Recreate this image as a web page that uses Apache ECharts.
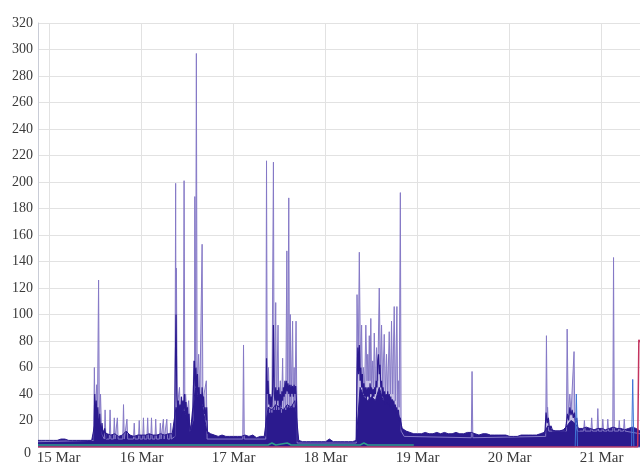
<!DOCTYPE html>
<html>
<head>
<meta charset="utf-8">
<script src="https://cdn.jsdelivr.net/npm/echarts@6/dist/echarts.min.js"></script>
<style>
html,body{margin:0;padding:0;background:#fff;}
#chart{width:640px;height:466px;}
</style>
</head>
<body>
<div id="chart"></div>
<script>
// ---- tick labels ----
const dayLabels = ['15 Mar', '16 Mar', '17 Mar', '18 Mar', '19 Mar', '20 Mar', '21 Mar'];
const yTicks = [0, 20, 40, 60, 80, 100, 120, 140, 160, 180, 200, 220, 240, 260, 280, 300, 320];

// ---- dense (dark) traffic floor, hourly, per day ----
const base14 = [5, 5, 5];                                    // 21:00-23:00
const base15 = [5, 5, 5, 6, 6, 5, 5, 5, 5, 5, 5, 5, 20, 18, 12, 10, 9, 10, 8, 9, 12, 9, 8, 9];
const base16 = [9, 9, 10, 9, 9, 10, 9, 10, 10, 30, 25, 28, 22, 12, 45, 35, 30, 12, 10, 9, 8, 9, 8, 8];
const base17 = [8, 8, 8, 9, 8, 9, 7, 8, 8, 30, 28, 32, 30, 28, 32, 30, 35, 5, 4, 4, 4, 4, 4, 4];
const base18 = [4, 6, 4, 4, 4, 4, 4, 4, 5, 45, 38, 35, 38, 35, 45, 35, 35, 32, 30, 25, 14, 12, 11, 10];
const base19 = [10, 10, 11, 10, 10, 11, 10, 11, 10, 10, 11, 10, 10, 11, 11, 10, 9, 10, 10, 9, 9, 9, 9, 9];
const base20 = [8, 8, 8, 9, 9, 9, 9, 9, 10, 11, 16, 13, 12, 12, 13, 16, 20, 18, 14, 14, 15, 14, 13, 14];
const base21 = [14, 13, 14, 15, 14, 14, 13, 14, 15, 14, 12]; // 00:00-10:00

// ---- dark streaks inside busy periods: [hour since 15 Mar 00:00, value] ----
const dense15 = [[11.6, 5], [11.8, 40], [12.0, 15], [12.2, 35], [12.4, 12], [12.6, 30], [12.9, 10], [13.1, 25],
  [13.4, 8], [13.7, 18], [14.0, 8], [14.4, 14], [14.8, 6]];
const dense16 = [[32.6, 8], [32.8, 60], [33.0, 100], [33.2, 40], [33.4, 25], [33.6, 35], [33.8, 20], [34.0, 32],
  [34.2, 22], [34.4, 38], [34.6, 25], [34.8, 35], [35.0, 28], [35.2, 40], [35.4, 25], [35.6, 34], [35.8, 20],
  [36.0, 30], [36.2, 18], [36.4, 25], [36.6, 12], [36.9, 15], [37.1, 15], [37.4, 30], [37.6, 50], [37.8, 65],
  [38.0, 45], [38.2, 60], [38.4, 40], [38.6, 55], [38.8, 35], [39.0, 45], [39.2, 30], [39.4, 40], [39.6, 28],
  [39.8, 45], [40.0, 30], [40.2, 38], [40.4, 25], [40.6, 30], [40.8, 20], [41.0, 30], [41.2, 10]];
const dense17 = [[56.4, 8], [56.6, 67], [56.8, 40], [57.0, 50], [57.2, 32], [57.4, 40], [57.6, 30], [57.8, 38],
  [58.0, 30], [58.2, 45], [58.4, 92], [58.6, 40], [58.8, 35], [59.0, 45], [59.2, 32], [59.4, 43], [59.6, 35],
  [59.8, 45], [60.0, 30], [60.2, 40], [60.4, 30], [60.6, 42], [60.8, 35], [61.0, 45], [61.2, 38], [61.4, 50],
  [61.6, 40], [61.8, 50], [62.0, 42], [62.2, 48], [62.4, 40], [62.6, 47], [62.8, 38], [63.0, 47], [63.2, 40],
  [63.4, 46], [63.6, 38], [63.8, 47], [64.0, 40], [64.2, 46], [64.4, 35], [64.6, 4]];
const dense18 = [[80.0, 4], [80.2, 50], [80.4, 75], [80.6, 55], [80.8, 77], [81.0, 50], [81.2, 60], [81.4, 45],
  [81.6, 55], [81.8, 40], [82.0, 48], [82.2, 38], [82.4, 45], [82.6, 35], [82.8, 45], [83.0, 38], [83.2, 45],
  [83.4, 35], [83.6, 48], [83.8, 40], [84.0, 45], [84.2, 36], [84.4, 44], [84.6, 38], [84.8, 45], [85.0, 40],
  [85.2, 50], [85.4, 45], [85.6, 65], [85.8, 70], [86.0, 55], [86.2, 62], [86.4, 45], [86.6, 50], [86.8, 38],
  [87.0, 45], [87.2, 35], [87.4, 42], [87.6, 32], [87.8, 40], [88.0, 33], [88.2, 42], [88.4, 32], [88.6, 40],
  [88.8, 30], [89.0, 38], [89.2, 30], [89.4, 36], [89.6, 28], [89.8, 35], [90.0, 28], [90.2, 32], [90.4, 25],
  [90.6, 30], [90.8, 22], [91.0, 28], [91.2, 20], [91.5, 22], [91.8, 14], [92.2, 12]];
const dense20 = [[129.2, 10], [129.5, 26], [129.8, 18], [130.1, 22], [130.4, 14], [130.8, 16], [131.2, 12],
  [134.5, 12], [134.8, 18], [135.1, 25], [135.4, 20], [135.7, 30], [136.0, 24], [136.3, 28], [136.6, 22],
  [136.9, 26], [137.2, 18], [137.5, 22], [137.8, 14], [138.2, 12]];

// ---- spikes (lighter trace): [hour since 15 Mar 00:00, value] ----
const spikes15 = [[-3, 4], [11.5, 5], [11.7, 60], [11.9, 20], [12.3, 47], [12.5, 25], [12.8, 126], [13.0, 20],
  [13.3, 40], [13.6, 10], [14.3, 6], [14.5, 28], [14.7, 6], [15.6, 6], [15.8, 28], [16.0, 6],
  [16.7, 6], [16.9, 22], [17.1, 6], [17.5, 6], [17.7, 22], [17.9, 6], [19.1, 6], [19.3, 32], [19.5, 6],
  [20.0, 6], [20.2, 21], [20.4, 6], [21.9, 6], [22.1, 18], [22.3, 6], [23.2, 6], [23.4, 20], [23.6, 6]];
const spikes16 = [[24.3, 6], [24.5, 22], [24.7, 6], [25.4, 6], [25.6, 22], [25.8, 6], [26.4, 6], [26.6, 22], [26.8, 6],
  [27.5, 6], [27.7, 21], [27.9, 6], [28.7, 6], [28.9, 18], [29.1, 6], [29.5, 6], [29.7, 21], [29.9, 6],
  [30.4, 6], [30.6, 21], [30.8, 6], [31.4, 6], [31.6, 18], [31.8, 6],
  [32.7, 8], [32.9, 199], [33.0, 60], [33.1, 135], [33.3, 30], [33.9, 45], [34.1, 25], [34.9, 30], [35.1, 201],
  [35.3, 30], [35.5, 40], [35.8, 25], [36.3, 35], [36.6, 12],
  [37.4, 20], [37.6, 65], [37.8, 40], [37.9, 189], [38.1, 60], [38.3, 297], [38.5, 50], [38.9, 70], [39.2, 35],
  [39.8, 153], [40.0, 35], [40.9, 50], [41.1, 6]];
const spikes17 = [[50.4, 6], [50.6, 77], [50.8, 6],
  [56.4, 6], [56.6, 216], [56.8, 28], [57.1, 60], [57.4, 26], [57.7, 40], [58.0, 26], [58.4, 215], [58.6, 28],
  [59.0, 109], [59.2, 28], [59.6, 92], [59.8, 28], [60.2, 50], [60.5, 26], [60.8, 67], [61.0, 28], [61.3, 45],
  [61.6, 28], [61.9, 148], [62.1, 30], [62.4, 188], [62.6, 30], [62.8, 100], [63.0, 30], [63.4, 95], [63.6, 30],
  [63.8, 60], [64.0, 30], [64.3, 95], [64.6, 3]];
const spikes18 = [[80.0, 3], [80.2, 115], [80.5, 60], [80.8, 147], [81.1, 60], [81.4, 92], [81.6, 45], [81.9, 60],
  [82.2, 45], [82.5, 92], [82.8, 50], [83.0, 70], [83.2, 50], [83.4, 84], [83.6, 50], [83.8, 97], [84.0, 45],
  [84.3, 65], [84.5, 45], [84.7, 86], [85.0, 45], [85.3, 75], [85.6, 50], [86.0, 120], [86.3, 55], [86.6, 92],
  [86.9, 45], [87.3, 85], [87.6, 40], [87.9, 70], [88.2, 40], [88.6, 87], [88.9, 40], [89.2, 95], [89.5, 40],
  [89.9, 106], [90.2, 35], [90.6, 106], [90.8, 30], [91.0, 50], [91.2, 30], [91.5, 192], [91.7, 12], [92.5, 8]];
const spikes19 = [[110.0, 7], [110.2, 57], [110.4, 7]];
const spikes20 = [[129.4, 8], [129.6, 84], [129.8, 20], [129.9, 30], [130.2, 12],
  [134.8, 12], [135.0, 89], [135.3, 25], [135.7, 40], [136.0, 25], [136.8, 72], [137.0, 20], [137.7, 12],
  [139.3, 12], [139.5, 20], [139.7, 12], [141.2, 12], [141.4, 22], [141.6, 12], [142.8, 12], [143.0, 29], [143.2, 12]];
const spikes21 = [[144.1, 12], [144.3, 21], [144.5, 12], [145.4, 12], [145.6, 21], [145.8, 12],
  [146.9, 12], [147.1, 143], [147.3, 12], [148.4, 12], [148.6, 20], [148.8, 12], [149.7, 12], [149.9, 21],
  [150.1, 12], [154, 10]];

// ---- other traces ----
const tealPts = [[-3, 1.5], [33, 1.5], [33.5, 3], [34, 1.5], [38, 1.5], [38.5, 3], [39, 1.5], [57, 1.5], [58, 3],
  [59, 1.5], [62, 3], [63, 1.5], [81, 1.5], [82, 3], [83, 1.5], [95, 1.5]];
const bluePts = [[-3, 0], [137.1, 0], [137.4, 40], [137.7, 0], [151.8, 0], [152.1, 51], [152.4, 0], [154, 0]];
const redPts = [[-3, 0], [153.4, 0], [153.7, 81], [154, 79]];

// ---- build ----
const BASE = new Date(2014, 2, 15).getTime();
const HOUR = 3600000;
const DAY = 24 * HOUR;
function hourly(startHour, arr) { return arr.map((v, i) => [BASE + (startHour + i) * HOUR, v]); }
function pts(arr) { return arr.map(p => [BASE + p[0] * HOUR, p[1]]); }

const baseData = [].concat(
  hourly(-3, base14), hourly(0, base15), hourly(24, base16), hourly(48, base17),
  hourly(72, base18), hourly(96, base19), hourly(120, base20), hourly(144, base21));
const spikeData = pts([].concat(spikes15, spikes16, spikes17, spikes18, spikes19, spikes20, spikes21));
const denseSets = [dense15, dense16, dense17, dense18, dense20];

const FONT = "'Liberation Serif', 'Times New Roman', serif";
const DARK = '#2b1a8e';
const chart = echarts.init(document.getElementById('chart'), null, { renderer: 'canvas' });

const series = [
  {
    name: 'spikes', type: 'line', data: spikeData, showSymbol: false, symbol: 'none',
    lineStyle: { color: '#8579c6', width: 1 }, itemStyle: { color: '#8579c6' },
    areaStyle: { color: '#9a8fd4', opacity: 0.55 }
  },
  {
    name: 'base', type: 'line', data: baseData, showSymbol: false, symbol: 'none',
    lineStyle: { color: DARK, width: 1 }, itemStyle: { color: DARK },
    areaStyle: { color: DARK, opacity: 1 }
  }
];
denseSets.forEach((d, i) => series.push({
  name: 'dense' + i, type: 'line', data: pts(d), showSymbol: false, symbol: 'none',
  lineStyle: { color: DARK, width: 1.2 }, itemStyle: { color: DARK }
}));
series.push(
  {
    name: 'blue', type: 'line', data: pts(bluePts), showSymbol: false, symbol: 'none',
    lineStyle: { color: '#3f74d6', width: 1 }, itemStyle: { color: '#3f74d6' }
  },
  {
    name: 'teal', type: 'line', data: pts(tealPts), showSymbol: false, symbol: 'none',
    lineStyle: { color: '#2f9c8c', width: 1.5 }, itemStyle: { color: '#2f9c8c' }
  },
  {
    name: 'red', type: 'line', data: pts(redPts), showSymbol: false, symbol: 'none',
    lineStyle: { color: '#c4335f', width: 1.5 }, itemStyle: { color: '#c4335f' }
  }
);

chart.setOption({
  animation: false,
  backgroundColor: '#ffffff',
  grid: { left: 38, right: 0, top: 23, bottom: 16, containLabel: false },
  xAxis: {
    type: 'time',
    min: BASE - 3 * HOUR,
    max: BASE + 154 * HOUR,
    minInterval: DAY,
    maxInterval: DAY,
    axisLine: { show: false },
    axisTick: { show: false },
    splitLine: { show: true, lineStyle: { color: '#e2e2e2', width: 1 } },
    axisLabel: {
      margin: 4,
      fontFamily: FONT,
      fontSize: 15,
      color: '#3a3a3a',
      showMinLabel: false,
      showMaxLabel: false,
      hideOverlap: false,
      formatter: function (v) {
        const idx = Math.round((v - BASE) / DAY);
        if (idx < 0 || idx >= dayLabels.length) return '';
        return idx === 0 ? '{f|' + dayLabels[idx] + '}' : dayLabels[idx];
      },
      rich: { f: { padding: [0, 0, 0, 18], fontFamily: FONT, fontSize: 15, color: '#3a3a3a' } }
    }
  },
  yAxis: {
    type: 'value',
    min: yTicks[0],
    max: yTicks[yTicks.length - 1],
    interval: yTicks[1] - yTicks[0],
    axisLine: { show: true, lineStyle: { color: '#c9ccd6', width: 1 } },
    axisTick: { show: false },
    splitLine: { show: true, lineStyle: { color: '#e2e2e2', width: 1 } },
    axisLabel: {
      margin: 5,
      fontFamily: FONT,
      fontSize: 14,
      color: '#3a3a3a',
      formatter: function (v) { return v === 0 ? '{z|0}' : String(v); },
      rich: { z: { padding: [12, 2, 0, 0], fontFamily: FONT, fontSize: 14, color: '#3a3a3a' } }
    }
  },
  series: series
});
</script>
</body>
</html>
